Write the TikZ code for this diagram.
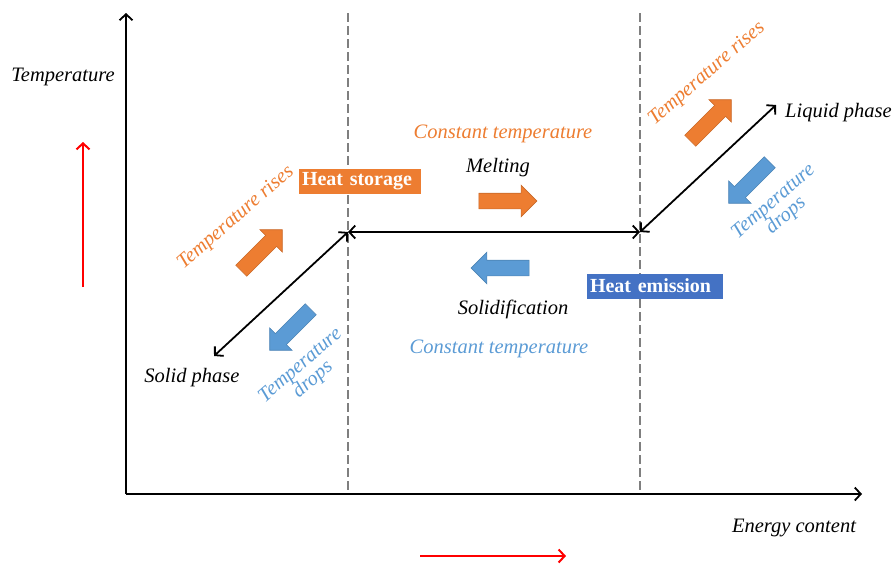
\documentclass[tikz,border=0pt]{standalone}
\usepackage{fontspec}
\setmainfont{Liberation Serif}
\usetikzlibrary{arrows.meta,shapes.arrows}
\definecolor{myorange}{HTML}{ED7D31}
\definecolor{myblue}{HTML}{5B9BD5}
\definecolor{boxblue}{HTML}{4472C4}
\definecolor{dashgray}{HTML}{7F7F7F}
\tikzset{
  barb/.style={line width=1.8pt,-{Straight Barb[length=6pt,width=13pt,line width=1.8pt]}},
  dbarb/.style={line width=1.8pt,{Straight Barb[length=6pt,width=13pt,line width=1.8pt]}-{Straight Barb[length=6pt,width=13pt,line width=1.8pt]}},
  redbarb/.style={line width=2pt,red,-{Straight Barb[length=6pt,width=13pt,line width=2pt]}},
  dashline/.style={dashgray,line width=2pt,dash pattern=on 9pt off 4pt},
  lbl/.style={font=\fontsize{20.5}{22}\selectfont\itshape,inner sep=0pt},
  rotlbl/.style={font=\fontsize{20.5}{19}\selectfont\itshape,inner sep=0pt,align=center,rotate=41},
  tagbox/.style={font=\fontsize{20}{22}\selectfont\bfseries,text=white,inner xsep=3pt,inner ysep=0pt,minimum height=25pt,align=left},
  blockarrow/.style={single arrow,minimum height=58pt,minimum width=31pt,inner sep=7.5pt,single arrow head extend=8pt,line width=0.6pt},
  orarrow/.style={blockarrow,fill=myorange,draw=myorange!85!black},
  blarrow/.style={blockarrow,fill=myblue,draw=myblue!85!black}
}
\begin{document}
\begin{tikzpicture}[x=1pt,y=-1pt]
\useasboundingbox (0,0) rectangle (894,563);
% axes
\coordinate (O) at (126,494);
\coordinate (ytop) at (126,13);
\coordinate (xend) at (862,494);
% dashed verticals
\coordinate (d1t) at (348,13);
\coordinate (d1b) at (348,494);
\coordinate (d2t) at (640,13);
\coordinate (d2b) at (640,494);
\draw[dashline] (d1t) -- (d1b);
\draw[dashline] (d2t) -- (d2b);
\draw[barb] (O) -- (ytop);
\draw[barb] (O) -- (xend);
% red arrows
\coordinate (ra1) at (83,287);
\coordinate (ra2) at (83,142);
\draw[redbarb] (ra1) -- (ra2);
\coordinate (rb1) at (420,556);
\coordinate (rb2) at (566,556);
\draw[redbarb] (rb1) -- (rb2);
% phase lines
\coordinate (A) at (348,232);
\coordinate (B) at (640,232);
\coordinate (S) at (214,356);
\coordinate (L) at (776,105);
\draw[dbarb] (A) -- (B);
\draw[dbarb] (S) -- (A);
\draw[dbarb] (B) -- (L);
% axis labels
\node[lbl] (tlab) at (63,77) {Temperature};
\node[lbl] (elab) at (794,528) {Energy content};
% boxes
\node[tagbox,fill=myorange,text width=116pt] (hs) at (360,181) {Heat storage};
\node[tagbox,fill=boxblue,text width=130pt] (he) at (655,286) {Heat emission};
% middle labels
\node[lbl,text=myorange] (ct1) at (503,134) {Constant temperature};
\node[lbl] (melt) at (498,168) {Melting};
\node[orarrow] (ma) at (504,201) {};
\node[blarrow,rotate=180] (sa) at (504,268) {};
\node[lbl] (sol) at (513,309) {Solidification};
\node[lbl,text=myblue] (ct2) at (499,349) {Constant temperature};
% phase labels
\node[lbl] (sp) at (192,378) {Solid phase};
\node[lbl,anchor=west] (lp) at (785,113) {Liquid phase};
% left side
\node[rotlbl,text=myorange] (tr1) at (236,218) {Temperature rises};
\node[orarrow,rotate=45] (oa1) at (259,253) {};
\node[blarrow,rotate=225] (ba1) at (293,327) {};
\node[rotlbl,text=myblue] (td1) at (307,373) {Temperature\\drops};
% right side
\node[rotlbl,text=myorange] (tr2) at (707,74) {Temperature rises};
\node[orarrow,rotate=45] (oa2) at (708,123) {};
\node[blarrow,rotate=225] (ba2) at (752,180) {};
\node[rotlbl,text=myblue] (td2) at (780,209) {Temperature\\drops};
\end{tikzpicture}
\end{document}
